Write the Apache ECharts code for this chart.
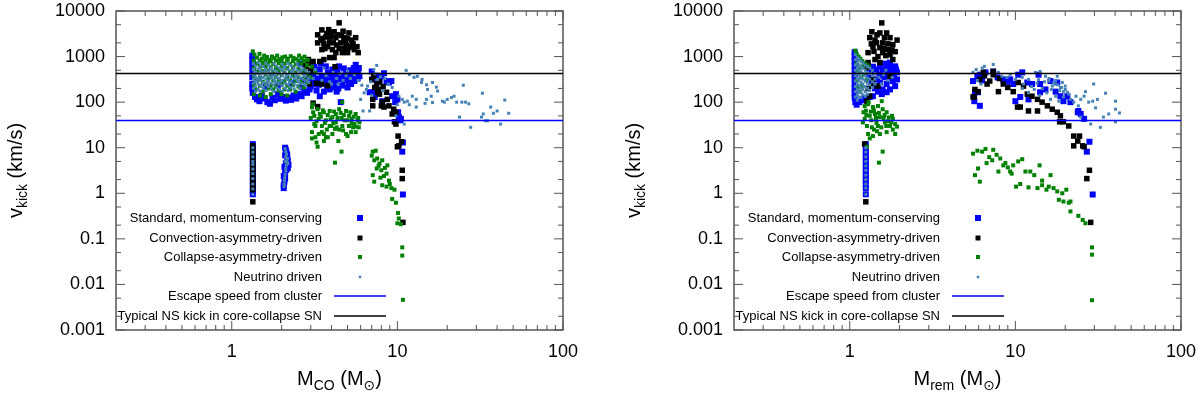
<!DOCTYPE html>
<html>
<head>
<meta charset="utf-8">
<title>Kick velocities</title>
<script src="https://cdn.jsdelivr.net/npm/echarts@6/dist/echarts.min.js"></script>
<style>
  html, body { margin: 0; padding: 0; background: #fff; }
  #chart { width: 1200px; height: 398px; }
</style>
</head>
<body>
<div id="chart"></div>
<script>
// axis ranges and ticks
const X_RANGE = [0.2, 100]
const Y_RANGE = [0.001, 10000]
const X_MAJOR = [1, 10, 100]
const X_MINOR = [0.3, 0.4, 0.5, 0.6, 0.7, 0.8, 0.9, 2, 3, 4, 5, 6, 7, 8, 9, 20, 30, 40, 50, 60, 70, 80, 90]
const Y_MAJOR = [0.001, 0.01, 0.1, 1, 10, 100, 1000, 10000]
const Y_MINOR = [0.002, 0.005, 0.02, 0.05, 0.2, 0.5, 2, 5, 20, 50, 200, 500, 2000, 5000]

const ESCAPE_SPEED = 40
const NS_KICK = 420

const LEGEND = [
  'Standard, momentum-conserving',
  'Convection-asymmetry-driven',
  'Collapse-asymmetry-driven',
  'Neutrino driven',
  'Escape speed from cluster',
  'Typical NS kick in core-collapse SN'
]

// ---- left panel: M_CO ----
const stdL = [
  [1.34,160],[1.38,130],[1.42,115],[1.47,105],[1.52,140],[1.58,120],[1.64,100],[1.7,92],[1.76,125],[1.82,110],
  [1.9,150],[1.97,118],[2.05,130],[2.12,108],[2.2,125],[2.28,112],[2.36,140],[2.45,120],[2.55,150],[2.64,135],
  [2.75,170],[2.85,160],[2.95,190],
  [1.33,200],[1.33,250],[1.33,350],[1.33,480],[1.33,650],[1.33,850],[1.33,1050],
  [1.6,220],[1.9,240],[2.3,260],[2.7,300],[2.9,350],[2.6,700],
  [2.65,210],[2.9,315],[3.2,250],[3.4,135],[3.4,520],[3.5,370],[3.6,170],[3.7,610],[3.9,190],[4.0,350],
  [4.05,520],[4.15,210],[4.25,290],[4.3,170],[4.45,610],[4.55,100],[4.6,315],[4.9,450],[5.0,210],[5.1,270],
  [5.3,370],[5.5,290],[5.6,660],[5.7,520],[5.9,370],[3.1,400],[3.3,330],[3.8,450],[4.2,400],[4.7,380],
  [5.2,500],[5.8,450],[3.0,220],[3.25,180],[3.55,280],[4.8,300],[5.4,420],[3.15,600],[3.45,700],
  [3.05,300],[3.35,240],[3.65,330],[3.75,220],[3.95,420],[4.1,260],[4.35,480],[4.5,350],[4.65,230],[4.75,550],
  [4.95,330],[5.15,400],[5.25,250],[5.45,560],[5.65,400],[5.75,330],[5.85,560],[3.85,300],[4.4,200],[5.35,310],
  [6.8,165],[7.0,470],[7.1,315],[7.2,165],[7.3,130],[8.0,370],[8.1,105],[8.3,430],[8.6,290],[8.9,270],
  [9.2,290],[9.3,135],[9.7,100],[9.8,150],[10.0,115],[10.1,60],[10.2,47],[10.5,43],[10.4,40],[7.5,380],
  [7.8,300],[10.8,13],[10.7,8.2],[10.8,0.94],
  [1.34,12],[1.34,10],[1.34,8.5],[1.34,7.2],[1.34,6.1],[1.34,5.2],[1.34,4.4],[1.34,3.7],[1.34,3.1],[1.34,2.6],
  [1.34,2.2],[1.34,1.85],[1.34,1.55],[1.34,1.3],[1.34,1.1],[1.34,0.95],
  [2.1,10],[2.12,9],[2.14,7.8],[2.1,6.8],[2.16,6],[2.18,5.2],[2.12,4.6],[2.2,4.2],[2.08,3.8],[2.14,3.3],
  [2.1,2.8],[2.06,2.4],[2.1,2.1],[2.08,1.8],[2.06,1.5],[2.06,1.3],[2.18,3.6],[2.16,7]
]
const convL = [
  [2.75,450],[2.85,380],[2.95,250],[2.8,600],[3.0,500],[2.9,700],
  [4.45,5500],[3.5,3850],[3.7,2700],[4.0,3300],[4.15,3500],[3.45,2300],[3.9,2100],[4.25,2600],[4.55,2000],[5.1,3300],
  [5.3,2300],[5.6,2600],[5.7,1650],[5.8,1220],[5.5,1420],[4.9,1830],[4.65,1220],[4.25,1220],[4.05,1420],[3.5,1420],
  [3.4,780],[3.6,860],[3.9,950],[4.15,950],[5.0,1220],[4.75,2600],[3.3,3000],[3.8,1650],[5.1,1570],[3.1,780],
  [2.9,860],[2.8,660],[3.6,1900],[4.3,1800],[4.8,1500],[5.4,1900],[3.3,2000],[4.1,2000],[3.75,3200],[4.6,2900],
  [5.0,2500],[3.55,2500],[3.95,2700],[4.35,3000],[4.85,2200],[5.25,1700],[3.65,1500],[4.45,1500],[3.85,3900],[4.7,3600],
  [3.1,95],[3.3,80],[3.25,260],[3.5,250],[3.8,230],[4.2,600],
  [7.0,315],[7.5,250],[7.3,210],[7.7,190],[7.8,150],[8.6,165],[8.7,115],[8.1,100],[8.9,83],[9.5,70],
  [9.8,60],[9.3,55],[9.8,33],[9.6,37],[8.3,78],[8.0,83],[7.6,165],[7.1,115],[7.1,83],[7.2,380],
  [7.8,280],[8.2,220],[10.1,18],[10.2,11],[10.0,10.5],[10.6,13.5],[10.7,3.2],[10.7,2.1],[10.8,0.23],
  [1.34,11],[1.34,9.2],[1.34,7.8],[1.34,6.6],[1.34,5.6],[1.34,4.8],[1.34,4.0],[1.34,3.4],[1.34,2.85],[1.34,2.4],
  [1.34,2.0],[1.34,1.7],[1.34,1.42],[1.34,1.2],[1.34,0.65]
]
const collL = [
  [1.34,1300],[1.37,1100],[1.42,950],[1.47,1150],[1.52,900],[1.57,1050],[1.63,980],[1.69,850],[1.75,1000],[1.81,920],
  [1.88,1050],[1.95,880],[2.02,960],[2.1,1000],[2.18,900],[2.27,1020],[2.36,940],[2.45,880],[2.55,1050],[2.65,920],
  [2.75,1000],[2.88,850],
  [1.36,820],[1.36,560],[1.36,380],[1.36,240],[1.36,150],[1.42,700],[1.42,470],[1.42,300],[1.42,190],
  [1.48,820],[1.48,600],[1.48,350],[1.48,230],[1.48,140],[1.54,720],[1.54,480],[1.54,280],[1.54,170],
  [1.6,850],[1.6,610],[1.6,400],[1.6,250],[1.6,130],[1.66,720],[1.66,500],[1.66,320],[1.66,200],
  [1.72,800],[1.72,580],[1.72,380],[1.72,230],[1.72,150],[1.78,690],[1.78,460],[1.78,300],[1.78,190],
  [1.85,820],[1.85,560],[1.85,360],[1.85,220],[1.92,720],[1.92,480],[1.92,310],[1.92,180],
  [2.0,800],[2.0,600],[2.0,390],[2.0,250],[2.0,150],[2.08,700],[2.08,450],[2.08,290],[2.08,190],
  [2.16,820],[2.16,560],[2.16,350],[2.16,230],[2.16,140],[2.25,700],[2.25,470],[2.25,300],[2.25,190],
  [2.34,800],[2.34,580],[2.34,380],[2.34,240],[2.43,680],[2.43,450],[2.43,290],[2.43,170],
  [2.53,820],[2.53,540],[2.53,350],[2.53,220],[2.63,700],[2.63,450],[2.63,280],
  [2.73,800],[2.73,520],[2.73,330],[2.73,210],[2.85,650],[2.85,420],[2.85,270],
  [3.05,600],[3.2,450],[3.0,350],
  [3.05,77],[3.3,70],[3.15,50],[3.35,43],[3.6,60],[3.9,64],[4.05,47],[4.25,55],[4.45,70],[4.65,100],
  [4.9,64],[5.1,50],[5.3,43],[5.6,55],[5.9,36],[5.6,29],[5.1,30],[4.65,30],[4.25,36],[3.9,30],
  [3.5,30],[3.2,30],[3.05,22],[3.35,20],[3.7,17],[4.05,20],[4.45,25],[4.9,20],[5.25,22],[3.75,25],
  [3.6,20],[3.2,17],[3.05,16],[3.3,10.5],[3.6,14],[3.8,17],[4.4,14],[4.6,8.2],[4.2,4.7],[5.0,18],
  [5.6,22],[3.1,90],[3.4,55],[3.7,40],[4.1,35],[4.6,45],[5.3,35],[5.8,45],[3.0,45],[4.8,40],
  [3.25,13],[3.5,22],[4.3,28],[5.4,28],[4.0,30],
  [3.1,60],[3.25,38],[3.45,48],[3.55,66],[3.8,52],[3.95,42],[4.15,62],[4.35,45],[4.55,58],[4.75,52],
  [5.0,40],[5.2,60],[5.45,48],[5.75,40],[3.15,33],[3.65,35],[4.2,26],[4.7,24],[5.5,33],[5.85,28],
  [7.1,8.2],[7.4,8.6],[7.0,6.7],[7.25,5.3],[7.55,5.8],[7.8,4.5],[8.1,5.3],[8.7,4.1],[7.5,3.5],[8.0,3.2],
  [8.6,2.7],[7.1,2.5],[8.3,2.4],[8.9,1.9],[7.25,1.8],[8.1,1.5],[8.6,1.4],[9.2,1.3],[9.6,1.2],[9.3,0.75],
  [9.8,0.62],[10.1,0.37],[10.2,0.28],[10.0,0.22],[10.5,0.21],[10.7,0.065],[10.7,0.043],[10.8,0.0046],
  [7.7,4.0],[8.4,3.6],[7.9,2.2],[9.0,1.6]
]
const neuL = [
  [1.35,700],[1.35,520],[1.35,400],[1.35,320],[1.35,260],[1.35,200],
  [1.39,620],[1.39,460],[1.39,360],[1.39,280],[1.39,220],[1.39,170],
  [1.44,750],[1.44,540],[1.44,420],[1.44,330],[1.44,250],[1.44,190],
  [1.49,660],[1.49,480],[1.49,380],[1.49,300],[1.49,230],[1.49,175],
  [1.55,600],[1.55,440],[1.55,350],[1.55,270],[1.55,210],
  [1.61,720],[1.61,520],[1.61,410],[1.61,320],[1.61,240],[1.61,180],
  [1.67,640],[1.67,470],[1.67,370],[1.67,290],[1.67,220],
  [1.73,560],[1.73,430],[1.73,340],[1.73,260],[1.73,195],
  [1.8,700],[1.8,500],[1.8,390],[1.8,310],[1.8,240],[1.8,170],
  [1.87,620],[1.87,460],[1.87,350],[1.87,270],[1.87,205],
  [1.94,560],[1.94,420],[1.94,330],[1.94,250],[1.94,190],
  [2.02,680],[2.02,500],[2.02,380],[2.02,300],[2.02,230],[2.02,175],
  [2.1,600],[2.1,440],[2.1,340],[2.1,260],[2.1,200],
  [2.19,700],[2.19,520],[2.19,400],[2.19,310],[2.19,240],[2.19,180],
  [2.28,630],[2.28,460],[2.28,360],[2.28,280],[2.28,210],
  [2.38,560],[2.38,420],[2.38,330],[2.38,250],[2.38,195],
  [2.48,690],[2.48,500],[2.48,380],[2.48,300],[2.48,230],
  [2.58,600],[2.58,450],[2.58,340],[2.58,260],[2.58,200],
  [2.69,540],[2.69,410],[2.69,320],[2.69,250],
  [2.8,480],[2.8,370],[2.8,290],[2.8,230],
  [2.92,450],[2.92,340],[2.92,270],
  [1.37,450],[1.42,290],[1.47,560],[1.52,340],[1.58,480],[1.64,270],[1.7,520],[1.76,380],[1.83,280],[1.9,420],
  [1.98,290],[2.06,560],[2.14,380],[2.24,270],[2.33,500],[2.43,360],[2.53,280],[2.63,500],[2.74,380],[2.86,300],
  [3.1,330],[3.3,420],[3.5,300],[3.7,380],[3.9,280],[4.1,450],[4.3,330],[4.5,420],[4.7,300],[4.9,380],
  [5.2,330],[5.5,400],[5.8,300],[3.2,520],[3.6,560],[4.0,250],[4.4,250],[5.0,480],
  [1.34,10],[1.34,8],[1.34,6.3],[1.34,5],[1.34,4.3],[1.34,3.4],[1.34,2.7],[1.34,2.1],[1.34,1.6],[1.34,1.25],[1.34,0.95],
  [2.1,9.5],[2.12,8.2],[2.14,7.2],[2.12,6.3],[2.15,5.5],[2.16,4.8],[2.14,4.2],[2.12,3.6],[2.12,3.1],[2.1,2.6],
  [2.09,2.2],[2.08,1.9],[2.07,1.6],[2.07,1.4],[2.17,5.8],[2.18,4.5],[2.1,5.0],
  [11.3,497],[11.8,405],[12.6,350],[13.2,370],[14.1,315],[14,270],[15,240],[15.2,190],[16.3,270],[17.2,213],
  [17.5,175],[16,135],[15,115],[13,115],[12.3,135],[11.5,105],[11.8,88],[13,78],[14.7,94],[16.3,98],
  [18.7,105],[19.2,100],[20,115],[21.2,126],[22,135],[22.8,100],[24.5,100],[25.8,100],[27,92],[25,235],
  [23.7,47],[27.7,28],[32.6,157],[32.2,47],[33,55],[34,39],[36.6,78],[38,57],[40,64],[42,33],
  [44.5,111],[47,57],[35,39],[6,115],[6.2,64],[6.8,64],[6.5,190],[6.1,235],[6.6,225],[7.5,640],
  [7.2,520],[7.6,315],[10.2,135],[10.7,115],[11,100],[11,33],[10,88],[9.8,50],[6.3,160],[6.9,280],
  [7.3,420],[7.9,360],[8.4,330],[8.8,250],[9.3,210],[7.0,140],[8.2,180]
]

// ---- right panel: M_rem ----
const stdR = [
  [1.07,1250],[1.07,1000],[1.07,800],[1.07,630],[1.07,500],[1.07,400],[1.07,320],[1.07,250],[1.07,200],[1.07,160],
  [1.07,125],[1.08,100],[1.1,88],[1.14,100],[1.18,110],[1.22,120],[1.27,125],[1.32,130],
  [1.38,135],[1.46,225],[1.48,170],[1.56,150],[1.67,165],[1.75,190],[1.88,225],[1.82,290],[1.93,315],[1.93,450],
  [1.8,580],[1.88,610],[1.75,740],[1.7,450],[1.63,350],[1.52,270],[1.58,520],[1.52,400],[1.46,315],[1.67,250],
  [1.58,190],[1.42,450],[1.36,290],[1.52,610],[1.62,700],[1.72,350],[1.85,400],[1.42,200],[1.3,350],[1.3,500],
  [1.38,600],[1.9,520],[1.78,470],[1.68,600],[1.55,380],[1.45,520],
  [1.25,12],[1.25,10],[1.25,8.5],[1.25,7.2],[1.25,6.1],[1.25,5.2],[1.25,4.4],[1.25,3.7],[1.25,3.1],[1.25,2.6],
  [1.25,2.2],[1.25,1.85],[1.25,1.55],[1.25,1.3],[1.25,0.95],
  [5.55,290],[5.7,165],[5.65,105],[6.1,83],[5.95,165],[5.9,370],[6.1,400],[6.6,450],[7.35,470],[7.8,350],
  [8.45,315],[9.3,315],[9.7,250],[10.4,400],[11,450],[11.8,270],[12.6,250],[13.8,400],[14.1,250],[15.2,190],
  [16.3,290],[17.5,170],[18.7,135],[19.5,105],[21.5,100],[10.7,130],[10,105],[12,115],[23.8,60],[24.8,55],
  [26,43],[24,64],[28,13.5],[27,8.2],[29.3,0.94],[14.1,165],[17.9,270],[20.6,135],[6.3,300],[8.9,280]
]
const convR = [
  [1.56,5480],[1.36,3500],[1.46,3000],[1.52,3300],[1.67,3300],[1.75,2600],[1.42,2300],[1.58,2000],[1.82,1830],[1.88,1280],
  [1.7,1420],[1.52,1570],[1.38,1650],[1.32,2600],[1.75,1100],[1.58,1220],[1.48,1000],[1.93,2300],[1.29,1220],[1.42,860],
  [1.82,860],[1.52,740],[1.62,2600],[1.45,2000],[1.7,1900],[1.35,1900],[1.6,1500],[1.8,1400],[1.4,1300],[1.65,1050],
  [1.27,580],[1.29,740],[1.38,315],[1.32,135],[1.48,225],[1.36,225],[1.29,200],[1.27,105],[1.75,370],
  [1.23,12],[1.25,0.65],
  [5.55,130],[5.7,190],[6.1,315],[6.75,250],[7,290],[7.35,400],[7.9,170],[8.45,250],[9,210],[9.7,170],
  [10.4,270],[11.2,225],[11.8,150],[12.6,135],[13.6,115],[14.5,100],[15.6,83],[16.7,70],[17.9,60],[18.7,50],
  [10.3,78],[10.7,78],[12,64],[13.6,64],[19.5,37],[21,30],[18.5,37],[22.5,18],[24.4,18],[23.8,14],
  [22.5,11],[25.5,11],[26,10.5],[28,3.2],[27,2.1],[5.65,130],[5.95,170],[6.4,450],[7.35,470],[28.5,0.23],
  [8.0,330],[6.5,380]
]
const collR = [
  [1.08,1350],[1.1,1150],[1.13,1000],[1.16,900],[1.19,800],[1.23,720],[1.27,650],[1.31,600],
  [1.1,700],[1.12,450],[1.15,860],[1.2,610],[1.18,225],[1.15,170],[1.1,300],[1.14,550],[1.22,400],[1.26,300],
  [1.12,200],[1.17,350],
  [1.23,82],[1.29,90],[1.38,78],[1.48,82],[1.56,105],[1.58,70],[1.67,60],[1.8,50],[1.82,43],[1.88,33],
  [1.75,30],[1.63,36],[1.52,47],[1.42,55],[1.32,50],[1.23,43],[1.27,30],[1.36,28],[1.46,23],[1.52,20],
  [1.67,22],[1.82,25],[1.38,18],[1.32,16],[1.29,20],[1.58,8.2],[1.5,4.7],[1.27,10.5],[1.2,36],[1.21,60],
  [1.93,29],[1.88,20],[1.25,65],[1.35,40],[1.45,35],[1.6,45],[1.7,38],[1.55,28],[1.4,66],[1.3,100],
  [1.26,52],[1.34,62],[1.44,45],[1.5,58],[1.62,52],[1.72,46],[1.78,36],[1.66,30],[1.48,30],[1.4,25],
  [5.55,7.4],[5.9,8.6],[6.3,8.2],[6.6,9.4],[7.35,9],[7.7,7],[6.95,6.2],[7.25,5.3],[8.1,5.8],[5.7,2.5],
  [6.1,1.8],[5.95,3.5],[6.7,4.6],[7.9,3.0],[8.45,4.1],[8.7,4.6],[9,3.7],[9.7,4.1],[9.3,3.0],[10.4,5],
  [11,5.6],[9.5,2.7],[11.5,3.0],[12.3,3.0],[13,2.5],[14,4.1],[14.5,1.9],[16.3,2.5],[10.1,1.4],[10.7,1.6],
  [12,1.35],[13.6,1.3],[14.5,1.5],[15.4,1.2],[15.9,1.4],[17,1.3],[17.9,1.1],[19.2,1.0],[20.3,1.2],[18.3,0.72],
  [19.5,0.66],[21,0.62],[21.5,0.66],[21.5,0.4],[24,0.32],[25.5,0.26],[26.5,0.22],[29,0.065],[29,0.045],[29,0.0045]
]
const neuR = [
  [1.08,1100],[1.08,850],[1.08,650],[1.08,500],[1.08,380],[1.08,290],[1.08,220],[1.08,170],[1.08,130],
  [1.11,950],[1.11,720],[1.11,560],[1.11,430],[1.11,330],[1.11,250],[1.11,190],[1.11,145],[1.11,110],
  [1.14,880],[1.14,660],[1.14,500],[1.14,390],[1.14,300],[1.14,230],[1.14,175],[1.14,130],
  [1.17,800],[1.17,600],[1.17,460],[1.17,350],[1.17,270],[1.17,210],[1.17,160],[1.17,125],
  [1.2,720],[1.2,550],[1.2,420],[1.2,320],[1.2,250],[1.2,190],[1.2,145],
  [1.24,650],[1.24,500],[1.24,380],[1.24,290],[1.24,220],[1.24,170],[1.24,135],
  [1.28,600],[1.28,450],[1.28,340],[1.28,260],[1.28,200],[1.28,150],
  [1.32,560],[1.32,420],[1.32,320],[1.32,240],[1.32,180],
  [1.37,500],[1.37,380],[1.37,280],[1.37,210],[1.42,420],[1.42,320],[1.42,250],
  [1.5,350],[1.6,400],[1.7,300],[1.8,350],[1.55,250],[1.65,500],
  [1.25,10],[1.25,8],[1.25,6.3],[1.25,5],[1.25,4],[1.25,3.2],[1.25,2.5],[1.25,2],[1.25,1.6],[1.25,1.3],[1.25,0.95],
  [6.5,610],[7.35,670],[7.9,450],[8.3,370],[8.9,350],[9.3,400],[10,315],[11,350],[11.2,250],[12,315],
  [13.2,450],[14.1,470],[15.2,370],[15.9,290],[16.7,225],[17.5,250],[17.9,370],[18.7,210],[19.2,270],[19.5,170],
  [20,225],[20.6,165],[17.5,135],[16.3,115],[18.3,105],[21.5,115],[22.5,100],[23.2,135],[24,83],[24.8,115],
  [26,135],[26.5,170],[27.7,100],[29.3,105],[29.7,250],[30.5,75],[31.3,115],[35,157],[34,47],[36.6,55],
  [40.2,105],[40.2,70],[40.2,37],[42.5,58],[32.6,28],[28.5,33],[24.8,47],
  [5.55,450],[5.8,520],[6.3,560],[5.9,300],[6.2,250],
  [12.5,220],[13,190],[13.5,260],[14.5,200],[15,280],[15.5,160],[16,330],[16.5,190],[17,260],[17.5,300],
  [18,240],[18.5,180],[19,210],[19.5,130],[20,190],[21,150],[14,140],[12,160],[11,200],[13.8,310]
]

const FRAME = '#555'
const FONT = 'Liberation Sans, Arial, DejaVu Sans, sans-serif'
const COLORS = { std: '#0000ff', conv: '#000000', coll: '#008000', neu: '#4682b4' }
const GRIDS = [{ left: 116 }, { left: 734 }]

const tickData = [
  ...X_MAJOR.map(v => [v, 1, 0]),
  ...X_MINOR.map(v => [v, 1, 1]),
  ...Y_MAJOR.map(v => [1, v, 2]),
  ...Y_MINOR.map(v => [1, v, 3])
]

function renderTick(params, api) {
  const kind = api.value(2)
  const len = (kind === 0 || kind === 2) ? 9 : 5
  const style = { stroke: FRAME, lineWidth: 1 }
  if (kind < 2) {
    const v = api.value(0)
    const b = api.coord([v, Y_RANGE[0]])
    const t = api.coord([v, Y_RANGE[1]])
    return { type: 'group', children: [
      { type: 'line', shape: { x1: b[0], y1: b[1], x2: b[0], y2: b[1] - len }, style },
      { type: 'line', shape: { x1: t[0], y1: t[1], x2: t[0], y2: t[1] + len }, style }
    ] }
  }
  const v = api.value(1)
  const l = api.coord([X_RANGE[0], v])
  const r = api.coord([X_RANGE[1], v])
  return { type: 'group', children: [
    { type: 'line', shape: { x1: l[0], y1: l[1], x2: l[0] + len, y2: l[1] }, style },
    { type: 'line', shape: { x1: r[0], y1: r[1], x2: r[0] - len, y2: r[1] }, style }
  ] }
}

const fmtLabel = (v) => {
  if (v > 0.15 && v < 0.9) return ''
  return v >= 1 ? String(Math.round(v)) : String(Number(v.toPrecision(1)))
}

const richTitle = {
  m: { fontSize: 20, fontFamily: FONT, color: '#000', lineHeight: 28 },
  s: { fontSize: 14, fontFamily: FONT, color: '#000', padding: [14, 0, 0, 0] }
}

function xAxis(gi, name) {
  return {
    type: 'log', gridIndex: gi, min: X_RANGE[0], max: X_RANGE[1],
    axisLine: { show: false }, axisTick: { show: false }, splitLine: { show: false },
    axisLabel: { formatter: fmtLabel, fontSize: 18, fontFamily: FONT, color: '#000', margin: 13 },
    name, nameLocation: 'middle', nameGap: 35, nameTextStyle: { rich: richTitle }
  }
}
function yAxis(gi) {
  return {
    type: 'log', gridIndex: gi, min: Y_RANGE[0], max: Y_RANGE[1],
    axisLine: { show: false }, axisTick: { show: false }, splitLine: { show: false },
    axisLabel: { formatter: fmtLabel, fontSize: 18, fontFamily: FONT, color: '#000', margin: 11 },
    name: '{m|v}{s|kick}{m| (km/s)}', nameLocation: 'middle', nameRotate: 90, nameGap: 86,
    nameTextStyle: { rich: richTitle }
  }
}

function scatter(name, data, gi, color, size) {
  return {
    name, type: 'scatter', xAxisIndex: gi, yAxisIndex: gi, data,
    symbol: 'rect', symbolSize: size, itemStyle: { color, opacity: 1 }, silent: true
  }
}

function panelSeries(gi, std, conv, coll, neu) {
  const neuSeries = scatter(LEGEND[3], neu, gi, COLORS.neu, 3)
  neuSeries.markLine = {
    silent: true, symbol: ['none', 'none'], label: { show: false }, animation: false,
    lineStyle: { type: 'solid', width: 1.3 },
    data: [
      { yAxis: ESCAPE_SPEED, lineStyle: { color: COLORS.std } },
      { yAxis: NS_KICK, lineStyle: { color: '#000' } }
    ]
  }
  return [
    scatter(LEGEND[0], std, gi, COLORS.std, 6),
    scatter(LEGEND[1], conv, gi, COLORS.conv, 5.5),
    scatter(LEGEND[2], coll, gi, COLORS.coll, 4),
    neuSeries,
    { type: 'custom', xAxisIndex: gi, yAxisIndex: gi, data: tickData, renderItem: renderTick, silent: true, z: 10 }
  ]
}

// gnuplot style key: right aligned text, sample at right
const KEY_ROWS = [218, 238, 257, 277, 296, 316]
function keyGraphics(offset) {
  const els = []
  const samples = [
    { kind: 'rect', size: 6, color: COLORS.std },
    { kind: 'rect', size: 5, color: COLORS.conv },
    { kind: 'rect', size: 4, color: COLORS.coll },
    { kind: 'rect', size: 2.5, color: COLORS.neu },
    { kind: 'line', color: COLORS.std },
    { kind: 'line', color: '#000' }
  ]
  LEGEND.forEach((label, i) => {
    const y = KEY_ROWS[i]
    els.push({ type: 'text', x: 322 + offset, y, silent: true,
      style: { text: label, fontSize: 13, fontFamily: FONT, fill: '#000', align: 'right', verticalAlign: 'middle' } })
    const s = samples[i]
    if (s.kind === 'rect') {
      els.push({ type: 'rect', silent: true, shape: { x: 360 + offset - s.size / 2, y: y - s.size / 2, width: s.size, height: s.size }, style: { fill: s.color } })
    } else {
      els.push({ type: 'line', silent: true, shape: { x1: 334 + offset, y1: y, x2: 386 + offset, y2: y }, style: { stroke: s.color, lineWidth: 1.5 } })
    }
  })
  return els
}

const chart = echarts.init(document.getElementById('chart'), null, { renderer: 'canvas' })
const option = {
  animation: false,
  backgroundColor: '#fff',
  grid: GRIDS.map(g => ({ left: g.left, top: 11, width: 447, height: 321, show: true, borderColor: FRAME, borderWidth: 1.5, backgroundColor: 'transparent', containLabel: false })),
  xAxis: [xAxis(0, '{m|M}{s|CO}{m| (M}{s|⊙}{m|)}'), xAxis(1, '{m|M}{s|rem}{m| (M}{s|⊙}{m|)}')],
  yAxis: [yAxis(0), yAxis(1)],
  graphic: [...keyGraphics(0), ...keyGraphics(618)],
  series: [
    ...panelSeries(0, stdL, convL, collL, neuL),
    ...panelSeries(1, stdR, convR, collR, neuR)
  ]
}
chart.setOption(option)
</script>
</body>
</html>
